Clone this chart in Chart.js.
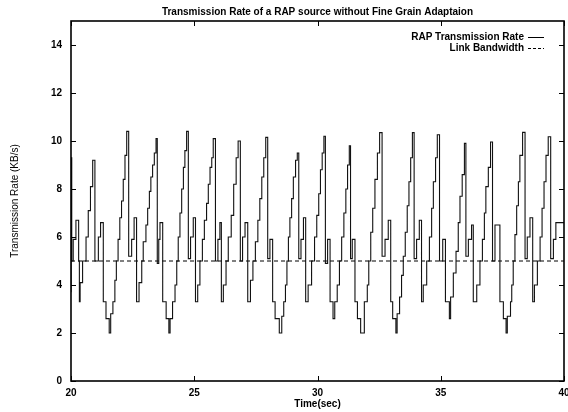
<!DOCTYPE html>
<html><head><meta charset="utf-8">
<script src="https://cdn.jsdelivr.net/npm/chart.js@4.4.1/dist/chart.umd.min.js"></script>
<style>html,body{margin:0;padding:0;background:#fff}</style>
</head><body>
<canvas id="c" width="568" height="412"></canvas>
<script>
const chartTitle = 'Transmission Rate of a RAP source without Fine Grain Adaptaion';
const xTitle = 'Time(sec)';
const yTitle = 'Transmission Rate (KB/s)';
const seriesNames = ['RAP Transmission Rate', 'Link Bandwidth'];
const xTicks = [20, 25, 30, 35, 40];
const yTicks = [0, 2, 4, 6, 8, 10, 12, 14];

// RAP transmission rate: time (s) at which each level starts, and the level (KB/s)
const timeSec = [
  20.00, 20.03, 20.09, 20.20, 20.31, 20.34, 20.37, 20.47, 20.61, 20.70, 20.79, 20.88, 20.97,
  21.11, 21.20, 21.31, 21.42, 21.55, 21.61, 21.70, 21.78, 21.84, 21.91, 21.98, 22.05, 22.12, 22.19, 22.26, 22.34,
  22.46, 22.56, 22.66, 22.76, 22.87, 22.93, 23.04, 23.11, 23.18, 23.24, 23.31, 23.38, 23.45, 23.50,
  23.56, 23.61, 23.72, 23.86, 23.97, 24.02, 24.12, 24.22, 24.29, 24.35, 24.42, 24.49, 24.56, 24.62, 24.69, 24.76,
  24.85, 24.96, 25.05, 25.14, 25.23, 25.33, 25.41, 25.50, 25.57, 25.64, 25.71, 25.77, 25.86,
  25.96, 26.04, 26.10, 26.18, 26.29, 26.38, 26.50, 26.60, 26.70, 26.78, 26.87,
  26.96, 27.06, 27.17, 27.28, 27.38, 27.48, 27.58, 27.66, 27.74, 27.82, 27.90, 27.98,
  28.07, 28.18, 28.28, 28.45, 28.55, 28.63, 28.70, 28.76, 28.82, 28.88, 28.95, 29.02, 29.11, 29.18, 29.24,
  29.33, 29.43, 29.52, 29.62, 29.76, 29.88, 29.97, 30.05, 30.12, 30.19, 30.26, 30.32,
  30.41, 30.51, 30.63, 30.70, 30.80, 30.89, 30.98, 31.07, 31.15, 31.22, 31.29, 31.34,
  31.41, 31.52, 31.62, 31.75, 31.90, 32.02, 32.08, 32.16, 32.24, 32.33, 32.43, 32.52, 32.62,
  32.74, 32.87, 32.97, 33.05, 33.18, 33.23, 33.33, 33.41, 33.48, 33.56, 33.64, 33.71, 33.78, 33.85, 33.92,
  34.02, 34.13, 34.22, 34.29, 34.43, 34.54, 34.63, 34.70, 34.79, 34.86, 34.95,
  35.08, 35.19, 35.35, 35.40, 35.51, 35.62, 35.71, 35.78, 35.87, 35.96, 36.02,
  36.12, 36.25, 36.32, 36.46, 36.59, 36.69, 36.77, 36.83, 36.93, 37.02, 37.10,
  37.20, 37.40, 37.54, 37.65, 37.70, 37.83, 37.88, 37.94, 38.01, 38.08, 38.15, 38.21, 38.32, 38.42,
  38.51, 38.62, 38.73, 38.80, 38.92, 39.03, 39.11, 39.19, 39.27, 39.36, 39.46,
  39.57, 39.67, 39.77, 40.00
];
const rateKBs = [
  3.7, 9.3, 5.0, 5.9, 6.7, 5.0, 3.3, 4.1, 5.0, 6.0, 7.1, 8.1, 9.2,
  5.0, 6.0, 6.6, 3.3, 2.6, 2.0, 2.8, 3.3, 4.2, 5.0, 5.9, 6.8, 7.5, 8.4, 9.4, 10.4,
  5.2, 5.9, 6.8, 3.3, 4.1, 5.0, 5.8, 6.5, 7.2, 7.9, 8.5, 9.0, 9.5, 10.1,
  4.9, 5.9, 6.6, 3.3, 2.6, 2.0, 2.6, 3.3, 4.0, 5.0, 6.0, 7.0, 8.0, 8.9, 9.6, 10.4,
  5.1, 6.0, 6.8, 3.3, 4.0, 5.0, 5.9, 6.7, 7.4, 8.2, 8.9, 9.3, 10.1,
  5.0, 5.9, 6.6, 3.3, 4.0, 5.0, 6.0, 6.9, 8.2, 9.3, 10.0,
  5.0, 6.0, 6.6, 3.3, 4.2, 5.0, 5.8, 6.7, 7.6, 8.5, 9.3, 10.15,
  5.1, 5.9, 3.3, 2.6, 2.0, 2.7, 3.3, 4.0, 5.0, 6.0, 6.8, 7.6, 8.5, 9.2, 9.5,
  5.1, 5.9, 6.8, 3.3, 4.0, 5.0, 6.0, 6.9, 7.8, 8.8, 9.5, 10.2,
  4.9, 5.9, 3.3, 2.6, 3.3, 4.0, 5.0, 6.0, 7.0, 8.0, 9.0, 9.8,
  5.1, 5.9, 3.3, 2.6, 2.0, 3.3, 4.0, 5.0, 6.2, 7.2, 8.4, 9.5, 10.35,
  5.2, 5.9, 6.7, 3.3, 2.6, 2.0, 2.8, 3.5, 4.4, 5.2, 6.2, 7.3, 8.3, 9.3, 10.35,
  5.1, 5.9, 6.7, 3.3, 4.0, 5.0, 6.0, 7.2, 8.3, 9.3, 10.26,
  5.0, 5.9, 3.3, 2.6, 3.5, 4.5, 5.4, 6.6, 7.7, 8.6, 9.9,
  5.2, 5.9, 6.5, 3.3, 4.0, 5.0, 5.9, 7.0, 8.1, 8.9, 9.96,
  5.0, 6.5, 3.3, 2.6, 2.0, 2.7, 3.3, 4.0, 5.0, 6.1, 7.3, 8.3, 9.4, 10.36,
  5.1, 6.0, 6.8, 3.3, 4.0, 5.0, 6.0, 7.2, 8.3, 9.4, 10.18,
  5.1, 5.9, 6.6, 6.6
];

// Link bandwidth
const bwTime = [20, 40];
const bwRate = [5, 5];

const FONT = '"Liberation Sans", Arial, Helvetica, sans-serif';
const txtFont = { family: FONT, size: 10, weight: 'bold' };

const framePlugin = {
  id: 'frame',
  afterDatasetsDraw(chart) {
    const { ctx, chartArea: a, scales: { x, y } } = chart;
    ctx.save();
    ctx.strokeStyle = '#000';
    ctx.lineWidth = 1;
    const L = 5;
    ctx.beginPath();
    xTicks.forEach(v => {
      const px = Math.round(x.getPixelForValue(v)) + 0.5;
      ctx.moveTo(px, a.bottom); ctx.lineTo(px, a.bottom - L);
      ctx.moveTo(px, a.top); ctx.lineTo(px, a.top + L);
    });
    yTicks.forEach(v => {
      const py = Math.round(y.getPixelForValue(v)) + 0.5;
      ctx.moveTo(a.left, py); ctx.lineTo(a.left + L, py);
      ctx.moveTo(a.right, py); ctx.lineTo(a.right - L, py);
    });
    ctx.stroke();
    ctx.lineWidth = 1.6;
    ctx.strokeRect(a.left, a.top, a.right - a.left, a.bottom - a.top);

    // legend (top right, inside the plot)
    ctx.font = 'bold 10px ' + FONT;
    ctx.fillStyle = '#000';
    ctx.textAlign = 'right';
    ctx.textBaseline = 'middle';
    const rows = [
      { text: seriesNames[0], dy: 16, dash: [] },
      { text: seriesNames[1], dy: 27, dash: [3, 2] }
    ];
    rows.forEach(r => {
      const yy = a.top + r.dy;
      ctx.fillText(r.text, a.right - 40, yy);
      ctx.setLineDash(r.dash);
      ctx.lineWidth = 1;
      ctx.beginPath();
      ctx.moveTo(a.right - 36, yy + 0.5);
      ctx.lineTo(a.right - 20, yy + 0.5);
      ctx.stroke();
    });
    ctx.setLineDash([]);
    ctx.restore();
  }
};

new Chart(document.getElementById('c'), {
  type: 'line',
  data: {
    datasets: [
      {
        label: seriesNames[0],
        data: timeSec.map((t, i) => ({ x: t, y: rateKBs[i] })),
        stepped: 'after',
        borderColor: '#111',
        borderWidth: 1.1,
        pointRadius: 0,
        fill: false
      },
      {
        label: seriesNames[1],
        data: bwTime.map((t, i) => ({ x: t, y: bwRate[i] })),
        borderColor: '#000',
        borderWidth: 1,
        borderDash: [4, 3],
        pointRadius: 0,
        fill: false
      }
    ]
  },
  options: {
    responsive: false,
    animation: false,
    devicePixelRatio: 1,
    layout: { padding: { left: 0, right: 4, top: 0, bottom: 0 } },
    plugins: {
      legend: { display: false },
      tooltip: { enabled: false },
      title: {
        display: true, text: chartTitle, color: '#000', fullSize: false,
        font: { family: FONT, size: 10, weight: 'bold' },
        padding: { top: 6, bottom: 3 }
      }
    },
    scales: {
      x: {
        type: 'linear', min: 20, max: 40,
        afterBuildTicks: s => { s.ticks = xTicks.map(v => ({ value: v })); },
        ticks: { color: '#000', font: txtFont, padding: 6, maxRotation: 0, autoSkip: false },
        grid: { display: false, drawTicks: false },
        border: { display: false },
        title: { display: true, text: xTitle, color: '#000', font: txtFont, padding: { top: 0, bottom: 2 } },
        afterFit: s => { s.height = 31; s.paddingLeft = 0; s.paddingRight = 0; }
      },
      y: {
        type: 'linear', min: 0, max: 15,
        afterBuildTicks: s => { s.ticks = yTicks.map(v => ({ value: v })); },
        ticks: { color: '#000', font: txtFont, padding: 9 },
        grid: { display: false, drawTicks: false },
        border: { display: false },
        title: { display: true, text: yTitle, color: '#000', font: { family: FONT, size: 10, weight: 'normal' }, padding: { top: 9, bottom: 0 } },
        afterFit: s => { s.width = 71; s.paddingTop = 0; s.paddingBottom = 0; }
      }
    }
  },
  plugins: [framePlugin]
});
</script>
</body></html>
